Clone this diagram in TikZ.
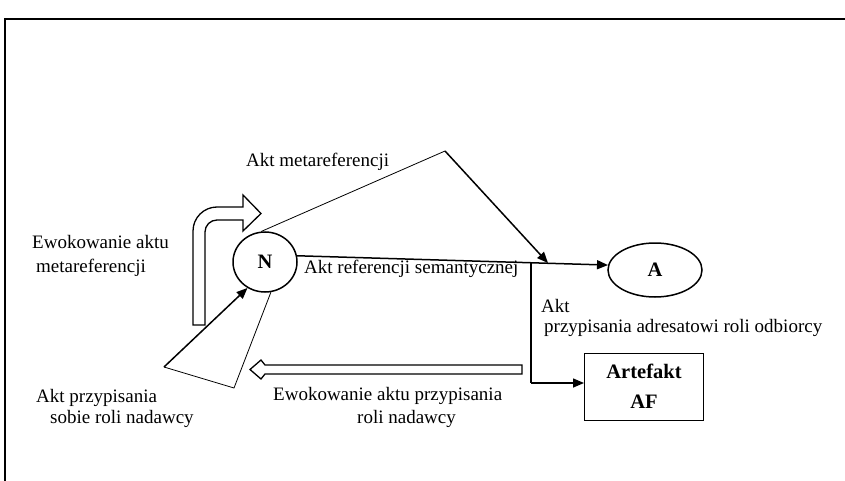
\documentclass[tikz,border=0pt]{standalone}
\usepackage{fontspec}
\setmainfont{Liberation Serif}
\usetikzlibrary{arrows.meta,shapes.geometric}
\begin{document}
\begin{tikzpicture}[x=1pt,y=-1pt,
  lbl/.style={anchor=base west,inner sep=0pt,font=\fontsize{19}{23}\selectfont},
  thickline/.style={line width=1.5pt},
  thinline/.style={line width=0.8pt},
  arr/.style={-{Triangle[length=11pt,width=9pt]}},
  ell/.style={ellipse,draw,line width=1.5pt,inner sep=0pt,font=\fontsize{20.5}{24}\selectfont\bfseries},
  boxnode/.style={draw,line width=1pt,inner sep=0pt,align=center,font=\fontsize{20.5}{24}\selectfont\bfseries},
  hollow/.style={draw,line width=1.3pt,line join=miter}]
\useasboundingbox (0,0) rectangle (845,481);
% frame
\draw[line width=1.5pt] (5,481) -- (5,19) -- (845,19);
% nodes
\node[ell,minimum width=64pt,minimum height=60pt] (N) at (265,262) {N};
\node[ell,minimum width=94pt,minimum height=54pt] (A) at (655,270) {A};
\node[boxnode,minimum width=119pt,minimum height=67pt] (AF) at (644,386.5) {Artefakt\\[6pt]AF};
% coordinates
\coordinate (apex) at (445,151);
\coordinate (hit) at (548,263);
\coordinate (branch) at (531,262.5);
\coordinate (corner) at (531,383);
\coordinate (L) at (164,367);
\coordinate (B) at (234,388);
% connectors
\draw[thickline,arr] (N.11) -- (A.174);
\draw[thinline] (N.97) -- (apex);
\draw[thickline,arr] (apex) -- (hit);
\draw[line width=1.1pt] (branch) -- (corner);
\draw[thickline,arr] (corner) -- (corner -| AF.west);
\draw[thickline,arr] (L) -- (N.236);
\draw[thinline] (L) -- (B) -- (N.281);
% bent hollow arrow
\draw[hollow] (193,325) -- (193,231) .. controls (193,217.75) and (203.75,207) .. (217,207)
  -- (243,207) -- (243,195) -- (261,213.5) -- (243,231) -- (243,220) -- (217,220)
  .. controls (210.37,220) and (205,225.37) .. (205,232) -- (205,325) -- cycle;
% hollow left arrow
\draw[hollow] (522,365) -- (265,365) -- (261,360) -- (250,369.5) -- (261,379) -- (265,374) -- (522,374) -- cycle;
% labels
\node[lbl] (meta) at (246,167) {Akt metareferencji};
\node[lbl] (ref) at (304,273) {Akt referencji semantycznej};
\node[lbl] (ewo1) at (32,248) {Ewokowanie aktu};
\node[lbl] (ewo2) at (36,272) {metareferencji};
\node[lbl] (odb1) at (541,312) {Akt};
\node[lbl] (odb2) at (544,332) {przypisania adresatowi roli odbiorcy};
\node[lbl] (nad1) at (36,402) {Akt przypisania};
\node[lbl] (nad2) at (50,423) {sobie roli nadawcy};
\node[lbl] (ewn1) at (273,400) {Ewokowanie aktu przypisania};
\node[lbl] (ewn2) at (357,423) {roli nadawcy};
\end{tikzpicture}
\end{document}
